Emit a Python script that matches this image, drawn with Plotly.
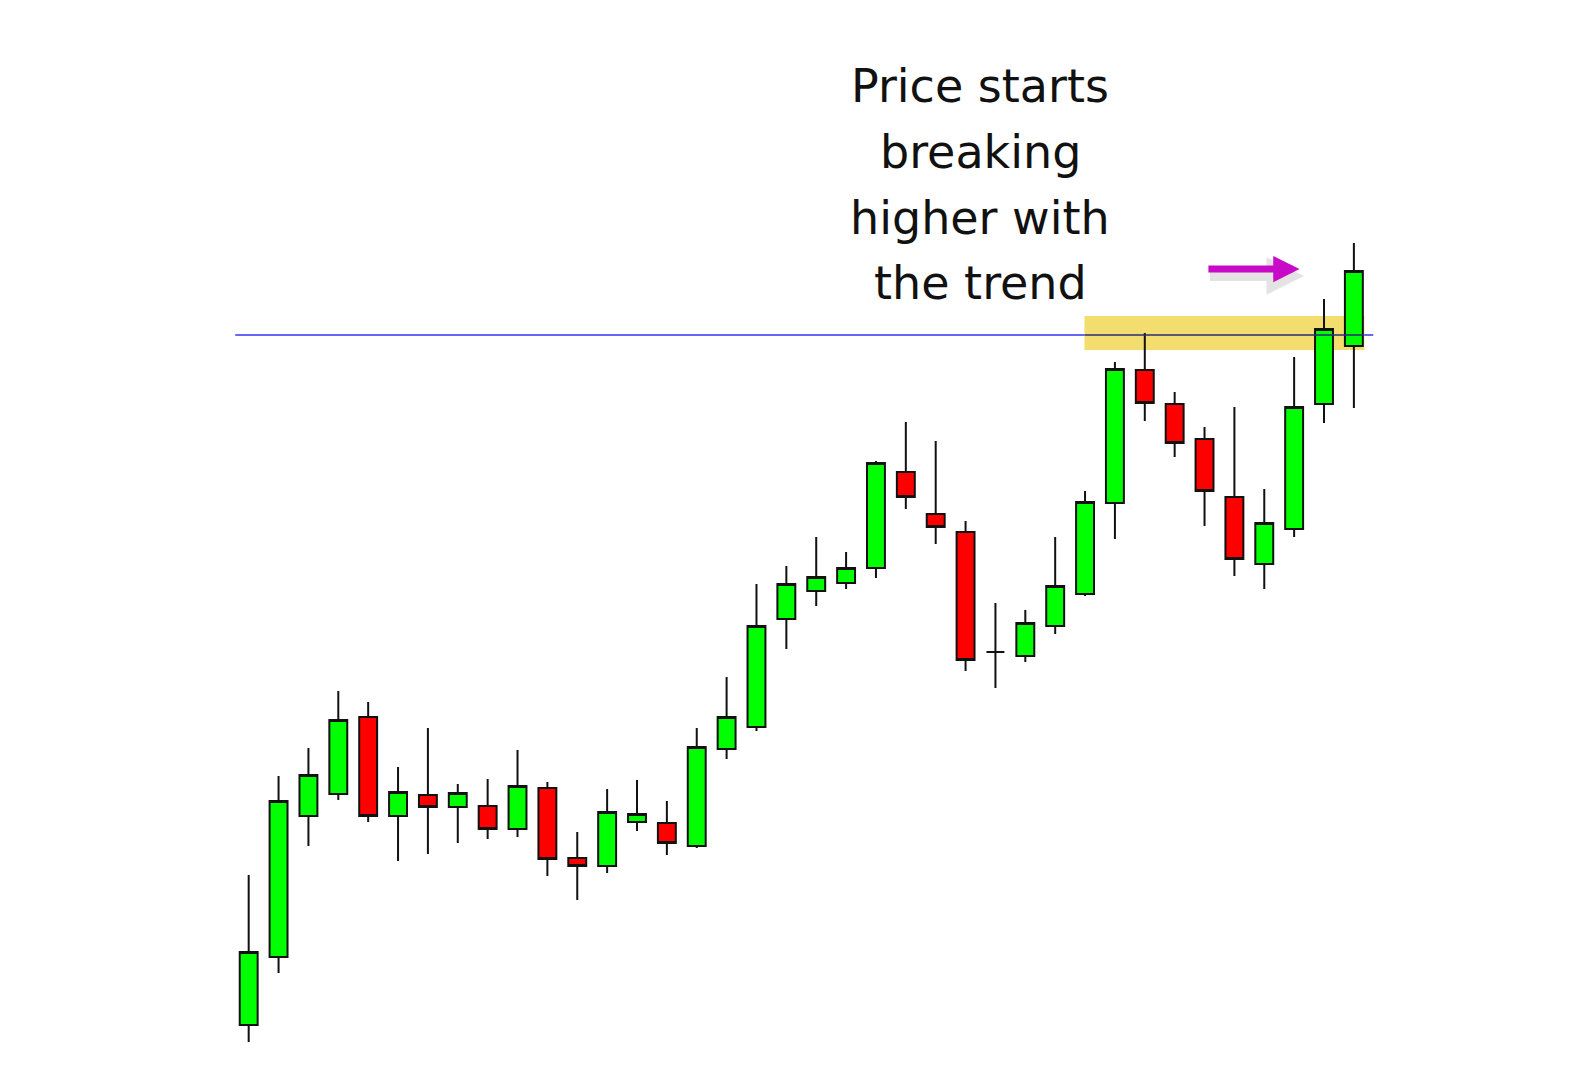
import plotly.graph_objects as go

# Candle data (price units, arbitrary scale)
idx = list(range(38))
opens  = [49, 117, 258, 280, 357, 258, 279, 267, 268, 245, 286, 216, 208, 252, 251, 228, 325, 347, 455, 483,
          491, 506, 602, 560, 542, 422, 418, 448, 480, 571, 704, 670, 635, 577, 510, 545, 670, 728]
highs  = [199, 298, 326, 383, 372, 307, 346, 290, 295, 324, 292, 242, 285, 294, 273, 346, 397, 490, 508, 537,
          522, 613, 652, 633, 553, 471, 464, 537, 583, 712, 741, 682, 647, 667, 585, 717, 775, 831]
lows   = [32, 101, 228, 274, 252, 213, 220, 231, 235, 237, 198, 174, 201, 243, 219, 226, 315, 343, 425, 468,
          485, 496, 565, 530, 403, 386, 412, 440, 478, 535, 653, 617, 548, 498, 485, 537, 651, 666]
closes = [122, 273, 299, 354, 258, 282, 267, 281, 245, 288, 215, 208, 262, 260, 231, 327, 357, 448, 490, 497,
          506, 611, 577, 547, 414, 422, 451, 488, 572, 705, 671, 631, 583, 515, 551, 667, 745, 803]

resistance = 739
zone_low, zone_high = 724, 758
zone_start, zone_end = 27.98, 37.35
line_start, line_end = -0.45, 37.65
arrow_tail, arrow_head, arrow_level = 32.08, 35.18, 805

text_lines = ["Price starts", "breaking", "higher with", "the trend"]
text_y = [988, 922, 856, 791]
text_x = 24.49

fig = go.Figure()
# highlight zone (behind candles)
fig.add_shape(type="rect", x0=zone_start, x1=zone_end, y0=zone_low, y1=zone_high,
              xref="x", yref="y", line=dict(width=0), fillcolor="#F3DD6E", layer="below")

fig.add_trace(go.Candlestick(
    x=idx, open=opens, high=highs, low=lows, close=closes,
    increasing=dict(line=dict(color="#111111", width=2), fillcolor="#00FF00"),
    decreasing=dict(line=dict(color="#111111", width=2), fillcolor="#FF0000"),
    whiskerwidth=0, hoverinfo="skip", showlegend=False,
))

# resistance line: blue outside zone, darker where it crosses the zone
fig.add_shape(type="line", x0=line_start, x1=zone_start, y0=resistance, y1=resistance,
              xref="x", yref="y", line=dict(color="#3535F5", width=1.5), layer="above")
fig.add_shape(type="line", x0=zone_start, x1=zone_end, y0=resistance, y1=resistance,
              xref="x", yref="y", line=dict(color="#2A2A78", width=1.5), layer="above")
fig.add_shape(type="line", x0=zone_end, x1=line_end, y0=resistance, y1=resistance,
              xref="x", yref="y", line=dict(color="#3535F5", width=1.5), layer="above")

# arrow shadow
fig.add_annotation(x=arrow_head + 0.15, y=arrow_level - 7, ax=arrow_tail + 0.05, ay=arrow_level - 7,
                   xref="x", yref="y", axref="x", ayref="y", text="", showarrow=True,
                   arrowhead=2, arrowsize=0.75, arrowwidth=10, arrowcolor="rgba(120,120,120,0.2)")
fig.add_annotation(x=arrow_head, y=arrow_level, ax=arrow_tail, ay=arrow_level,
                   xref="x", yref="y", axref="x", ayref="y", text="", showarrow=True,
                   arrowhead=2, arrowsize=0.75, arrowwidth=7, arrowcolor="#C80AC8")

for t, yy in zip(text_lines, text_y):
    fig.add_annotation(x=text_x, y=yy, xref="x", yref="y", text=t, showarrow=False,
                       font=dict(family="DejaVu Sans", size=46, color="#111111"),
                       xanchor="center", yanchor="middle")

fig.update_layout(
    width=1580, height=1066, margin=dict(l=0, r=0, t=0, b=0),
    paper_bgcolor="white", plot_bgcolor="white", boxgap=0.4, boxgroupgap=0,
    xaxis=dict(range=[-8.058, 44.838], visible=False, rangeslider=dict(visible=False), fixedrange=True),
    yaxis=dict(range=[0, 1066], visible=False, fixedrange=True),
)
fig.write_html("out.html", config={"displayModeBar": False})
